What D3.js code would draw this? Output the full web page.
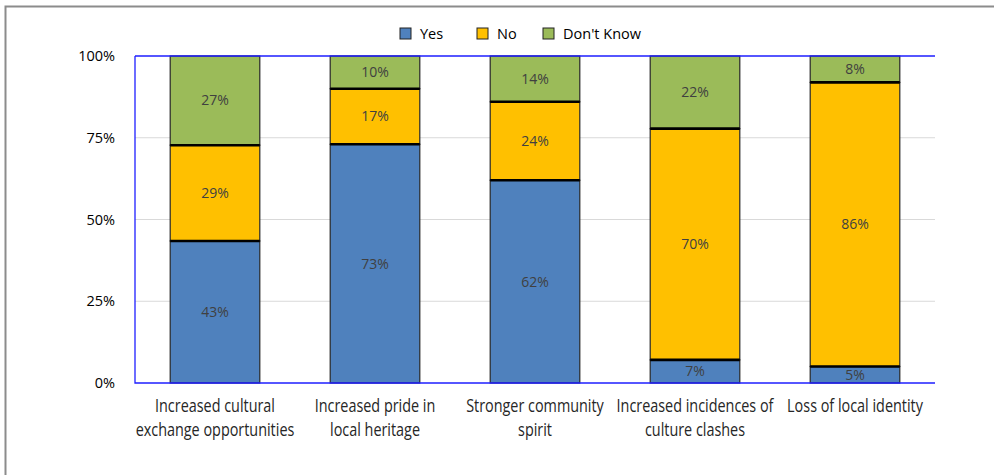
<!DOCTYPE html>
<html><head><meta charset="utf-8">
<script src="https://cdn.jsdelivr.net/npm/d3@7"></script>
<style>body{margin:0;background:#fff;} svg{display:block;}</style>
</head><body>
<script>
const categories = [["Increased cultural","exchange opportunities"],["Increased pride in","local heritage"],["Stronger community","spirit"],["Increased incidences of","culture clashes"],["Loss of local identity"]];
const seriesNames = ["Yes","No","Don't Know"];
const yesValues = [43,73,62,7,5];
const noValues = [29,17,24,70,86];
const dkValues = [27,10,14,22,8];
const yTicks = [0,0.25,0.5,0.75,1];
const colors = ["#4F81BD","#FFC000","#9BBB59"];

const W=994,H=475;
const svg=d3.select("body").append("svg").attr("width",W).attr("height",H);
// frame
svg.append("path").attr("d",`M5.5,${H} V6.5 H${W}`).attr("fill","none").attr("stroke","#8c8c8c").attr("stroke-width",2);

const m={l:135,r:935,t:56,b:383};
const x=d3.scaleBand().domain(d3.range(categories.length)).range([m.l,m.r]).paddingInner(0.44).paddingOuter(0.22);
const y=d3.scaleLinear().domain([0,1]).range([m.b,m.t]);

// grid
svg.append("g").selectAll("line").data(yTicks.filter(t=>t>0&&t<1)).join("line")
 .attr("x1",m.l).attr("x2",m.r).attr("y1",d=>y(d)).attr("y2",d=>y(d)).attr("stroke","#d9d9d9").attr("stroke-width",1);

// axis y labels
const yAxis=d3.axisLeft(y).tickValues(yTicks).tickFormat(d3.format(".0%")).tickSize(0).tickPadding(20);
const ga=svg.append("g").attr("transform",`translate(${m.l},0)`).call(yAxis);
ga.select(".domain").remove();
ga.selectAll("text").attr("font-family","'Open Sans',sans-serif").attr("font-size",14.5).attr("fill","#000");

// data
const rows=categories.map((c,i)=>({i,Yes:yesValues[i],No:noValues[i],DK:dkValues[i]}));
const stack=d3.stack().keys(["Yes","No","DK"]).offset(d3.stackOffsetExpand);
const series=stack(rows);

const g=svg.append("g");
series.forEach((s,si)=>{
  g.selectAll(null).data(s).join("rect")
   .attr("x",d=>x(d.data.i)).attr("width",x.bandwidth())
   .attr("y",d=>y(d[1])).attr("height",d=>y(d[0])-y(d[1]))
   .attr("fill",colors[si]).attr("stroke","#262626").attr("stroke-width",1.2);
});
// thick boundaries
series.slice(0,2).forEach(s=>{
  g.selectAll(null).data(s).join("line")
   .attr("x1",d=>x(d.data.i)).attr("x2",d=>x(d.data.i)+x.bandwidth())
   .attr("y1",d=>y(d[1])).attr("y2",d=>y(d[1])).attr("stroke","#000").attr("stroke-width",2.6);
});
// labels
const keys=["Yes","No","DK"];
series.forEach((s,si)=>{
  g.selectAll(null).data(s).join("text")
   .attr("x",d=>x(d.data.i)+x.bandwidth()/2).attr("y",d=>y((d[0]+d[1])/2))
   .attr("dy","0.35em").attr("text-anchor","middle")
   .attr("font-family","'Open Sans',sans-serif").attr("font-size",14).attr("fill","#404040")
   .text(d=>d.data[keys[si]]+"%");
});

// plot border lines (blue)
svg.append("path").attr("d",`M${m.l},${m.t} H${m.r} M${m.l},${m.t} V${m.b} H${m.r}`)
 .attr("fill","none").attr("stroke","#1f1fff").attr("stroke-width",1.3);

// category labels (condensed)
const cl=svg.append("g");
categories.forEach((c,i)=>{
  const cx=x(i)+x.bandwidth()/2;
  const gg=cl.append("g").attr("transform",`translate(${cx},412) scale(0.8,1)`);
  const t=gg.append("text").attr("x",0).attr("y",0).attr("text-anchor","middle")
   .attr("font-family","'Open Sans',sans-serif").attr("font-size",18).attr("fill","#262626");
  c.forEach((line,li)=>t.append("tspan").attr("x",0).attr("dy",li?24:0).text(line));
});

// legend
const lx=[400,477,543];
const lg=svg.append("g");
seriesNames.forEach((n,i)=>{
  lg.append("rect").attr("x",lx[i]).attr("y",28).attr("width",11).attr("height",11).attr("fill",colors[i]).attr("stroke","#222").attr("stroke-width",1);
  lg.append("text").attr("x",lx[i]+20).attr("y",34).attr("dy","0.35em").attr("font-family","'Open Sans',sans-serif").attr("font-size",14.5).attr("fill","#000").text(n);
});
</script>
</body></html>
